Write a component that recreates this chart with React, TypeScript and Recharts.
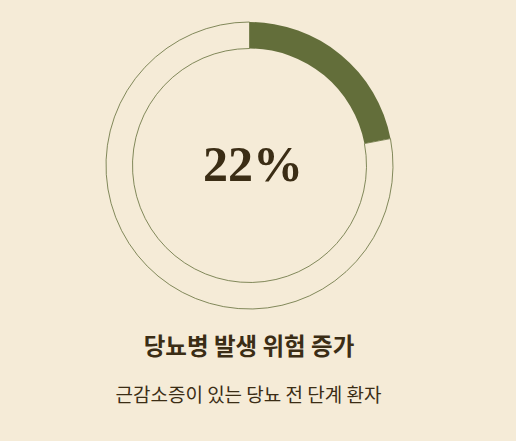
import { Cell, Label, Pie, PieChart } from "recharts";

const segments = ["당뇨병 발생 위험 증가", "나머지"];
const values = [22, 78];
const centerLabel = "22%";
const title = "당뇨병 발생 위험 증가";
const subtitle = "근감소증이 있는 당뇨 전 단계 환자";

const BG = "#f5ebd7";
const OLIVE = "#636e3a";
const TEXT = "#3b2d15";

const data = segments.map((name, i) => ({ name, value: values[i] }));

export default function App() {
  return (
    <div
      style={{
        position: "fixed",
        left: 0,
        top: 0,
        width: 516,
        height: 441,
        background: BG,
        fontFamily: "'Noto Sans CJK KR', 'Noto Sans', sans-serif",
        color: TEXT,
      }}
    >
      <PieChart width={516} height={330} margin={{ top: 0, right: 0, bottom: 0, left: 0 }}>
        <Pie
          data={data}
          dataKey="value"
          nameKey="name"
          cx={249.5}
          cy={165.5}
          innerRadius={117}
          outerRadius={143.5}
          startAngle={90}
          endAngle={-270}
          isAnimationActive={false}
        >
          <Cell fill={OLIVE} stroke="none" />
          <Cell fill={BG} stroke={OLIVE} strokeWidth={0.8} />
          <Label
            value={centerLabel}
            position="center"
            fill={TEXT}
            dx={-5}
            dy={-2}
            style={{ fontFamily: "'Liberation Serif', serif", fontSize: 50, fontWeight: 700 }}
          />
        </Pie>
      </PieChart>
      <div
        style={{
          position: "absolute",
          left: 0,
          width: 498,
          top: 329,
          textAlign: "center",
          fontSize: 23.5,
          fontWeight: 700,
          lineHeight: "32px",
        }}
      >
        {title}
      </div>
      <div
        style={{
          position: "absolute",
          left: 0,
          width: 497,
          top: 380,
          textAlign: "center",
          fontSize: 19,
          fontWeight: 400,
          lineHeight: "28px",
        }}
      >
        {subtitle}
      </div>
    </div>
  );
}
